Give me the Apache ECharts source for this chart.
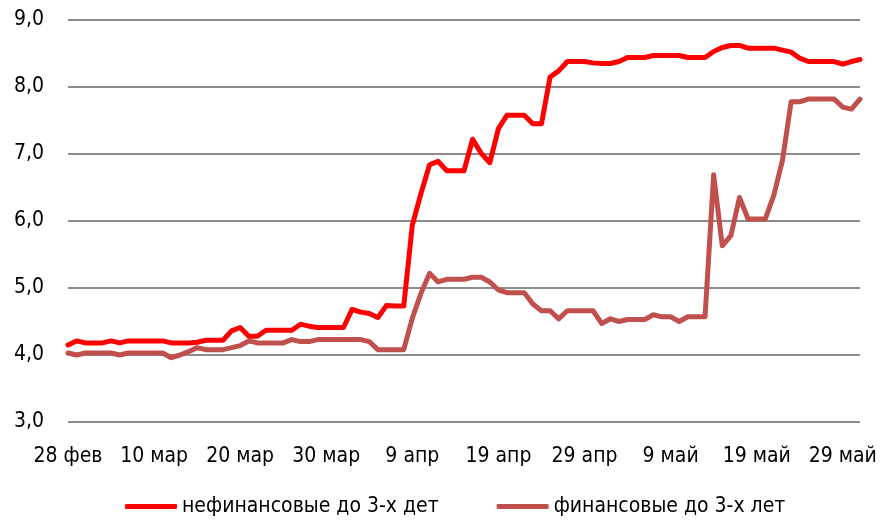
<!DOCTYPE html>
<html>
<head>
<meta charset="utf-8">
<script src="https://cdn.jsdelivr.net/npm/echarts@6/dist/echarts.min.js"></script>
<style>
html,body{margin:0;padding:0;background:#fff;}
#chart{width:884px;height:520px;}
</style>
</head>
<body>
<div id="chart"></div>
<script>
// Month abbreviations and day counts used to build daily category labels (28 фев .. 31 май)
const monthNames = ['фев', 'мар', 'апр', 'май'];
const monthDays = [28, 31, 30, 31];
const startDay = 28;

const nonFinancial = [
  4.15, 4.21, 4.18, 4.18, 4.18, 4.21, 4.18, 4.21, 4.21, 4.21,
  4.21, 4.21, 4.18, 4.18, 4.18, 4.19, 4.22, 4.22, 4.22, 4.36,
  4.41, 4.28, 4.28, 4.37, 4.37, 4.37, 4.37, 4.46, 4.43, 4.41,
  4.41, 4.41, 4.41, 4.68, 4.64, 4.62, 4.56, 4.74, 4.73, 4.73,
  5.94, 6.41, 6.84, 6.89, 6.75, 6.75, 6.75, 7.22, 7.01, 6.87,
  7.38, 7.58, 7.58, 7.58, 7.45, 7.45, 8.15, 8.24, 8.38, 8.38,
  8.38, 8.36, 8.35, 8.35, 8.38, 8.44, 8.44, 8.44, 8.47, 8.47,
  8.47, 8.47, 8.44, 8.44, 8.44, 8.53, 8.59, 8.62, 8.62, 8.58,
  8.58, 8.58, 8.58, 8.55, 8.52, 8.43, 8.38, 8.38, 8.38, 8.38,
  8.34, 8.38, 8.41
];

const financial = [
  4.03, 4.00, 4.03, 4.03, 4.03, 4.03, 4.00, 4.03, 4.03, 4.03,
  4.03, 4.03, 3.96, 4.00, 4.05, 4.11, 4.08, 4.08, 4.08, 4.11,
  4.14, 4.21, 4.18, 4.18, 4.18, 4.18, 4.23, 4.20, 4.20, 4.23,
  4.23, 4.23, 4.23, 4.23, 4.23, 4.20, 4.08, 4.08, 4.08, 4.08,
  4.55, 4.92, 5.22, 5.09, 5.13, 5.13, 5.13, 5.16, 5.16, 5.09,
  4.97, 4.93, 4.93, 4.93, 4.76, 4.66, 4.66, 4.54, 4.66, 4.66,
  4.66, 4.66, 4.47, 4.54, 4.50, 4.53, 4.53, 4.53, 4.60, 4.57,
  4.57, 4.50, 4.57, 4.57, 4.57, 6.69, 5.63, 5.78, 6.35, 6.03,
  6.03, 6.03, 6.39, 6.91, 7.78, 7.78, 7.82, 7.82, 7.82, 7.82,
  7.70, 7.67, 7.82
];

const seriesNames = ['нефинансовые до 3-х дет', 'финансовые до 3-х лет'];

// build daily category labels
const categories = [];
(function () {
  let m = 0, d = startDay;
  while (categories.length < nonFinancial.length) {
    categories.push(d + ' ' + monthNames[m]);
    d++;
    if (d > monthDays[m]) { d = 1; m++; }
  }
})();

const FONT = '"Liberation Sans Narrow", "DejaVu Sans Condensed", "Liberation Sans", sans-serif';

const chart = echarts.init(document.getElementById('chart'), null, { renderer: 'canvas' });
chart.setOption({
  animation: false,
  backgroundColor: '#ffffff',
  grid: { left: 68, right: 24, top: 20, bottom: 98, containLabel: false },
  xAxis: {
    type: 'category',
    data: categories,
    boundaryGap: false,
    axisLine: { show: false },
    axisTick: { show: false },
    axisLabel: {
      interval: 9,
      margin: 24,
      fontSize: 21,
      color: '#000',
      fontFamily: FONT
    },
    splitLine: { show: false }
  },
  yAxis: {
    type: 'value',
    min: 3,
    max: 9,
    interval: 1,
    axisLine: { show: false },
    axisTick: { show: false },
    axisLabel: {
      margin: 24,
      fontSize: 21,
      color: '#000',
      fontFamily: FONT,
      formatter: v => v.toFixed(1).replace('.', ',')
    },
    splitLine: { show: true, lineStyle: { color: '#8c8c8c', width: 2 } }
  },
  legend: {
    bottom: -2,
    left: 120,
    itemWidth: 52,
    itemHeight: 5,
    itemGap: 58,
    icon: 'roundRect',
    textStyle: { fontSize: 21, color: '#000', fontFamily: FONT },
    data: seriesNames
  },
  series: [
    {
      name: seriesNames[0],
      type: 'line',
      data: nonFinancial,
      showSymbol: false,
      symbol: 'none',
      lineStyle: { color: '#ff0000', width: 5, join: 'round', cap: 'round' },
      itemStyle: { color: '#ff0000' },
      z: 3
    },
    {
      name: seriesNames[1],
      type: 'line',
      data: financial,
      showSymbol: false,
      symbol: 'none',
      lineStyle: { color: '#c0504d', width: 5, join: 'round', cap: 'round' },
      itemStyle: { color: '#c0504d' },
      z: 2
    }
  ]
});
</script>
</body>
</html>
